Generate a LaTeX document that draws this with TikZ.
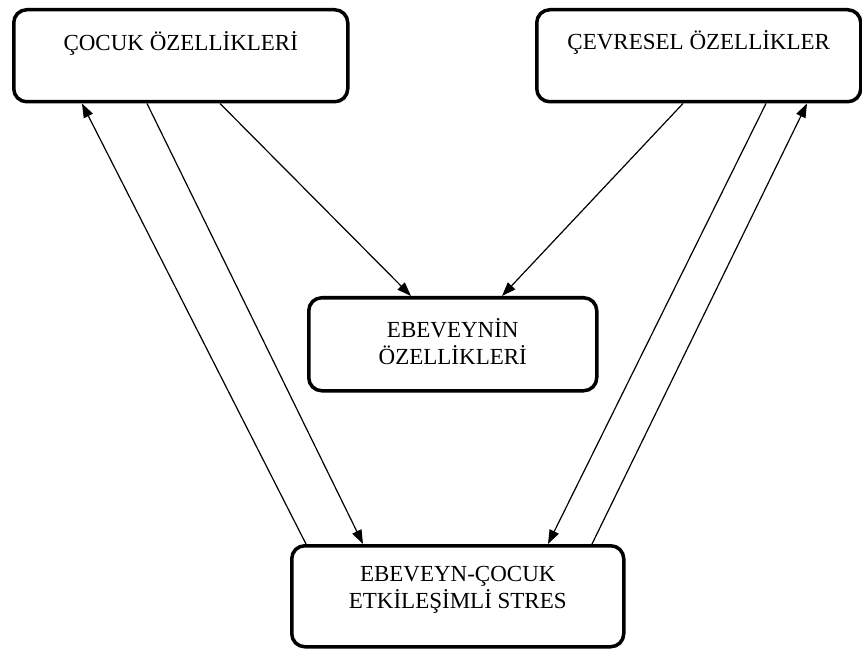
\documentclass[tikz,border=0pt]{standalone}
\usepackage{fontspec}
\setmainfont{Liberation Serif}
\usetikzlibrary{arrows.meta}
\tikzset{
  box/.style={draw, line width=3.5pt, rounded corners=13pt, inner sep=0pt, anchor=north west, font=\fontsize{23}{27}\selectfont, align=center},
  conn/.style={line width=1.2pt, -{Triangle[length=14pt,width=10pt]}}
}
\begin{document}
\begin{tikzpicture}[x=1pt,y=1pt]
\useasboundingbox (0,0) rectangle (862,649);
\node[box, minimum width=334pt, minimum height=92pt, text height=40.5pt, text depth=51.5pt] (b1) at (12,641) {ÇOCUK ÖZELLİKLERİ};
\node[box, minimum width=324pt, minimum height=92pt, text height=40pt, text depth=52pt] (b2) at (535,641) {ÇEVRESEL ÖZELLİKLER};
\node[box, minimum width=288pt, minimum height=93pt, text height=67pt, text depth=26pt] (b3) at (307,353) {EBEVEYNİN\\ÖZELLİKLERİ};
\node[box, minimum width=332pt, minimum height=101pt, text height=63pt, text depth=38pt] (b4) at (290,105) {EBEVEYN-ÇOCUK\\ETKİLEŞİMLİ STRES};
\draw[conn] ([xshift=16pt]b4.north west) -- ([xshift=70pt]b1.south west);
\draw[conn] ([xshift=135pt]b1.south west) -- ([xshift=73pt]b4.north west);
\draw[conn] ([xshift=208pt]b1.south west) -- ([xshift=104pt]b3.north west);
\draw[conn] ([xshift=148pt]b2.south west) -- ([xshift=195pt]b3.north west);
\draw[conn] ([xshift=231pt]b2.south west) -- ([xshift=258pt]b4.north west);
\draw[conn] ([xshift=302pt]b4.north west) -- ([xshift=272pt]b2.south west);
\end{tikzpicture}
\end{document}
